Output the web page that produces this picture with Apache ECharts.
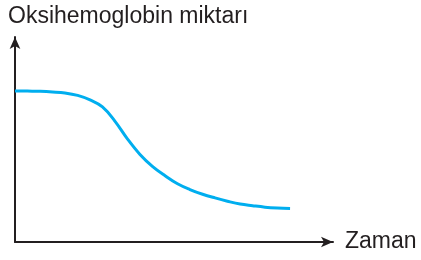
<!DOCTYPE html>
<html lang="tr">
<head>
    <meta charset="UTF-8">
    <title>Oksihemoglobin</title>
    <script src="https://cdn.jsdelivr.net/npm/echarts@6/dist/echarts.min.js"></script>
    <style>
        html, body { margin: 0; padding: 0; background: #fff; }
    </style>
</head>
<body>
<div id="main" style="width: 421px;height:260px;"></div>
<script type="text/javascript">
    // zaman (x) ve oksihemoglobin miktarı (y), 0-100 ölçeğinde okunmuş değerler
    var zaman = [0, 3.9, 7.9, 11.8, 15.7, 19.7, 23.6, 27.5, 31.4, 35.4, 39.3, 43.2,
        47.2, 51.1, 55.0, 59.0, 62.9, 66.8, 70.8, 74.7, 78.6, 82.5, 86.5];
    var miktar = [73.7, 73.6, 73.5, 73.2, 72.7, 71.5, 69.3, 65.9, 59.0, 50.2, 42.7, 36.9,
        32.3, 28.4, 25.6, 23.3, 21.5, 19.9, 18.5, 17.7, 17.0, 16.6, 16.4];
    var yAxisName = 'Oksihemoglobin miktarı';
    var xAxisName = 'Zaman';

    var myChart = echarts.init(document.getElementById('main'));
    var axisColor = '#231f20';

    myChart.setOption({
        animation: false,
        title: {
            text: yAxisName,
            left: 8,
            top: 5,
            padding: 0,
            textStyle: {
                fontFamily: 'Liberation Sans',
                fontSize: 23,
                fontWeight: 'normal',
                color: axisColor
            }
        },
        grid: {
            left: 15,
            right: 88,
            top: 37,
            bottom: 18
        },
        xAxis: {
            type: 'value',
            min: 0,
            max: 100,
            name: xAxisName,
            nameLocation: 'end',
            nameGap: 12,
            nameTextStyle: {
                fontFamily: 'Liberation Sans',
                fontSize: 23,
                color: axisColor,
                verticalAlign: 'middle'
            },
            axisLine: {
                show: true,
                symbol: ['none', 'arrow'],
                symbolSize: [8, 12],
                lineStyle: { color: axisColor, width: 2 }
            },
            axisTick: { show: false },
            axisLabel: { show: false },
            splitLine: { show: false }
        },
        yAxis: {
            type: 'value',
            min: 0,
            max: 100,
            axisLine: {
                show: true,
                symbol: ['none', 'arrow'],
                symbolSize: [8, 12],
                lineStyle: { color: axisColor, width: 2 }
            },
            axisTick: { show: false },
            axisLabel: { show: false },
            splitLine: { show: false }
        },
        series: [
            {
                type: 'line',
                smooth: 0.4,
                symbol: 'none',
                lineStyle: { color: '#00aeef', width: 3 },
                data: zaman.map(function (x, i) {
                    return [x, miktar[i]];
                })
            }
        ]
    });
</script>
</body>
</html>
